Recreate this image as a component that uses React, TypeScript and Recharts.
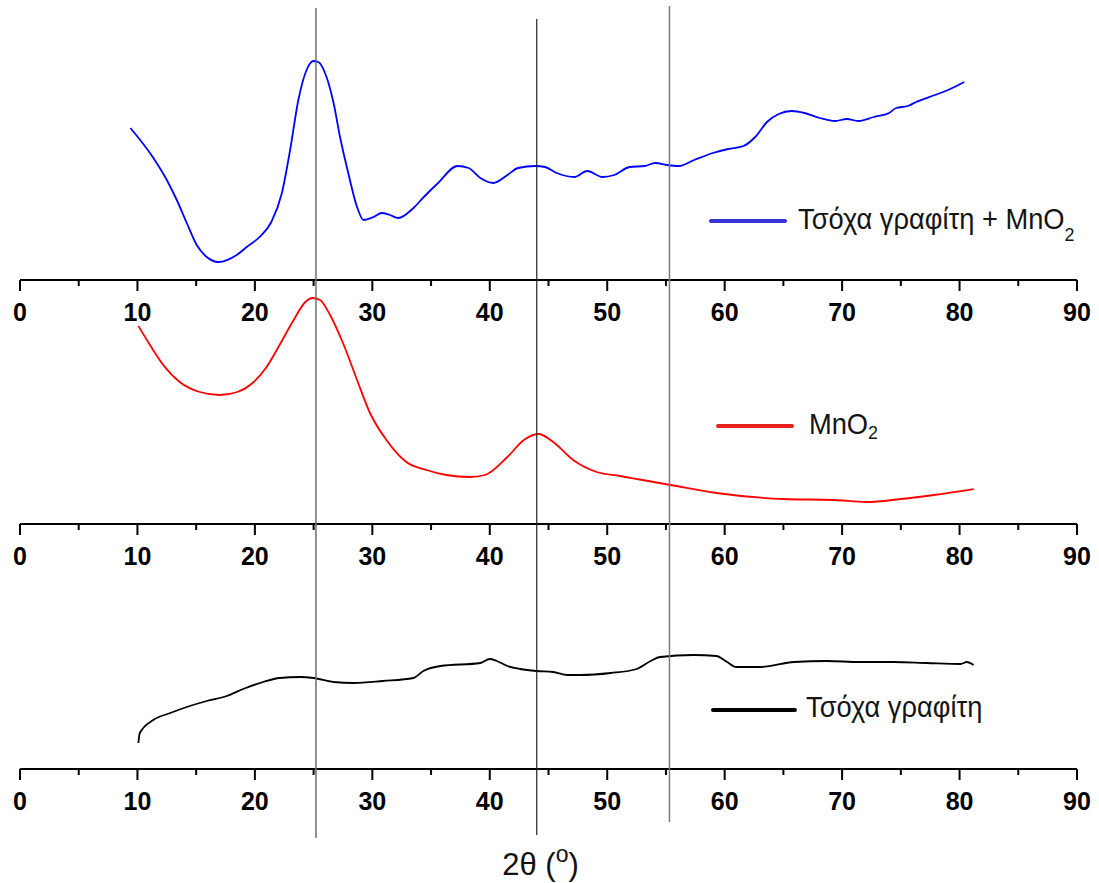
import { LineChart, Line, XAxis, YAxis, Legend } from 'recharts'

// 2θ (deg) and intensity (a.u.) for each sample
const feltMnO2Angle = [
  9.4, 11.3, 12.5, 13.35, 14.2, 15.05, 15.9, 16.9, 18.45, 19.3, 20.4, 21.4, 22.3, 23.0, 23.7, 24.4, 25.0,
  25.4, 26.1, 26.7, 27.25, 27.95, 28.7, 29.25, 30.1, 30.8, 31.5, 32.2, 33.5, 34.3, 35.6, 37.25, 38.2,
  39.2, 40.3, 41.5, 42.4, 43.9, 44.7, 45.7, 47.2, 48.3, 49.6, 50.6, 51.9, 53.2, 54.1, 55.1, 56.1, 57.4,
  59.0, 60.3, 61.6, 62.6, 63.6, 64.6, 65.7, 66.8, 68.1, 69.4, 70.4, 71.4, 72.7, 74.0, 74.6, 75.6, 76.3,
  77.9, 79.2, 80.4,
]
const feltMnO2Intensity = [
  152, 123, 100, 80, 57, 35, 23, 18, 25, 33, 43, 58, 87, 130, 180, 210, 219,
  218, 203, 177, 143, 107, 73, 60, 63, 67, 65, 62, 72, 82, 97, 114, 112,
  102, 97, 105, 112, 114, 113, 107, 103, 109, 103, 105, 113, 114, 117, 115, 114, 120,
  127, 131, 134, 143, 158, 166, 169, 167, 162, 159, 161, 159, 163, 167, 172, 174, 178,
  185, 191, 198,
]

const mno2Angle = [
  10.08, 11.07, 12.2, 13.6, 15.3, 17.0, 18.5, 19.9, 21.0, 22.1, 23.3, 24.3, 24.9, 25.55, 26.4, 27.5,
  28.7, 29.8, 31.2, 32.9, 34.6, 36.3, 38.3, 39.6, 41.5, 42.9, 44.15, 45.4, 47.1, 49.1, 51.1, 53.0,
  55.4, 59.3, 65.0, 69.3, 72.1, 75.0, 77.8, 81.2,
]
const mno2Intensity = [
  198, 179, 159, 142, 132, 129, 132, 142, 157, 179, 204, 222, 226, 224, 209, 181,
  144, 111, 84, 62, 54, 49, 47, 49, 67, 84, 90, 82, 64, 52, 48, 44,
  39, 31, 25, 24, 22, 25, 29, 35,
]

const feltAngle = [
  10.08, 10.2, 11.35, 12.8, 14.2, 15.9, 17.6, 19.0, 20.7, 22.1, 23.85, 25.0, 26.7, 28.4, 30.9, 33.5,
  34.35, 35.8, 39.2, 40.0, 40.6, 41.5, 42.6, 44.0, 45.4, 46.6, 47.7, 50.3, 52.5, 53.7, 54.5, 57.35,
  59.3, 60.2, 61.0, 63.0, 65.9, 68.7, 71.5, 74.4, 77.2, 80.1, 80.6, 81.2,
]
const feltIntensity = [
  26, 36, 49, 56, 62, 68, 73, 80, 87, 91, 92, 91, 87, 86, 88, 91,
  98, 103, 106, 110, 108, 103, 100, 98, 97, 94, 94, 96, 100, 108, 112, 114,
  113, 107, 102, 102, 107, 108, 107, 107, 106, 105, 107, 104,
]

const axisTicks = [0, 5, 10, 15, 20, 25, 30, 35, 40, 45, 50, 55, 60, 65, 70, 75, 80, 85, 90]
const markerAngles = [25.2, 44.0, 55.3]

const zip = (xs: number[], ys: number[]) => xs.map((x, i) => ({ x, y: ys[i] }))

const W = 1099
const H = 883
const MARGIN = { top: 0, right: 22, bottom: 0, left: 20 }
const PLOT_H = 240
const FONT = '"Liberation Sans", Arial, sans-serif'

// vertical extent (page px, top-down) and look of each marker line
const markerLook = [
  { from: 8, to: 838, stroke: '#6e6e6e', width: 1.5 },
  { from: 19, to: 835, stroke: '#222', width: 1.2 },
  { from: 6, to: 822, stroke: '#7a7a7a', width: 1.5 },
]

const AxisTick = (props: any) => {
  const { x, y, payload } = props
  const major = payload.value % 10 === 0
  return (
    <g>
      <line x1={x} x2={x} y1={y} y2={y + (major ? 11 : 6)} stroke="#000" strokeWidth={2} />
      {major && (
        <text x={x} y={y + 41} textAnchor="middle" fontFamily={FONT} fontWeight={700} fontSize={25} fill="#000">
          {payload.value}
        </text>
      )}
    </g>
  )
}

const AxisTitle = (props: any) => {
  const vb = props.viewBox || { x: MARGIN.left, y: PLOT_H, width: W - MARGIN.left - MARGIN.right }
  return (
    <text
      x={vb.x + vb.width / 2 - 8}
      y={vb.y + 106}
      textAnchor="middle"
      fontFamily={FONT}
      fontSize={31}
      fill="#111"
    >
      2θ (<tspan fontSize={23} dy={-13}>o</tspan>
      <tspan dy={13}>)</tspan>
    </text>
  )
}

type Key = {
  color: string
  label: string
  sub?: boolean
  subDrop?: number
  gap: number
  lineW?: number
  shift?: number
}

const KeyItem = ({ color, label, sub, subDrop = 5, gap, lineW = 78, shift = 0 }: Key) => (
  <div style={{ display: 'flex', alignItems: 'center', height: 36 }}>
    <span
      style={{ display: 'block', width: lineW, height: 4, borderRadius: 2, background: color, marginRight: gap }}
    />
    <span
      style={{
        fontFamily: FONT,
        fontSize: 29,
        lineHeight: '36px',
        color: '#141414',
        whiteSpace: 'nowrap',
        display: 'inline-block',
        transform: 'scaleX(0.94)',
        transformOrigin: 'left center',
        position: 'relative',
        top: shift,
      }}
    >
      {label}
      {sub && <span style={{ fontSize: 19, position: 'relative', top: subDrop }}>2</span>}
    </span>
  </div>
)

type PanelProps = {
  top: number
  angle: number[]
  intensity: number[]
  color: string
  width: number
  keyItem: Key
  keyPos: { left: number; top: number }
  withTitle?: boolean
}

function Panel({ top, angle, intensity, color, width, keyItem, keyPos, withTitle }: PanelProps) {
  const axisH = withTitle ? 114 : 45
  return (
    <div style={{ position: 'absolute', left: 0, top }}>
      <LineChart width={W} height={PLOT_H + axisH} data={zip(angle, intensity)} margin={MARGIN}>
        <XAxis
          dataKey="x"
          type="number"
          domain={[0, 90]}
          ticks={axisTicks}
          interval={0}
          height={axisH}
          tickSize={0}
          tickMargin={0}
          tickLine={false}
          tick={<AxisTick />}
          axisLine={{ stroke: '#000', strokeWidth: 2 }}
          label={withTitle ? (p: any) => <AxisTitle {...p} /> : undefined}
        />
        <YAxis hide domain={[0, PLOT_H]} />
        <Legend
          layout="vertical"
          align="center"
          verticalAlign="middle"
          wrapperStyle={{ left: keyPos.left, top: keyPos.top, width: 400 }}
          content={() => <KeyItem {...keyItem} />}
        />
        <Line
          type="monotone"
          dataKey="y"
          stroke={color}
          strokeWidth={width}
          dot={false}
          activeDot={false}
          isAnimationActive={false}
        />
      </LineChart>
    </div>
  )
}

// thin vertical markers at the reflection angles, spanning all three panels
function Markers() {
  return (
    <div style={{ position: 'absolute', left: 0, top: 0, pointerEvents: 'none' }}>
      <LineChart width={W} height={H} margin={MARGIN}>
        <XAxis hide dataKey="x" type="number" domain={[0, 90]} allowDuplicatedCategory={false} />
        <YAxis hide reversed type="number" domain={[0, H]} />
        {markerAngles.map((a, i) => (
          <Line
            key={a}
            data={[
              { x: a, y: markerLook[i].from },
              { x: a, y: markerLook[i].to },
            ]}
            dataKey="y"
            type="linear"
            stroke={markerLook[i].stroke}
            strokeWidth={markerLook[i].width}
            dot={false}
            activeDot={false}
            isAnimationActive={false}
          />
        ))}
      </LineChart>
    </div>
  )
}

export default function App() {
  return (
    <div style={{ position: 'absolute', left: 0, top: 0, width: W, height: H, background: '#fff', overflow: 'hidden' }}>
      <Panel
        top={40}
        angle={feltMnO2Angle}
        intensity={feltMnO2Intensity}
        color="#0000ff"
        width={1.8}
        keyItem={{ color: '#3434d4', label: 'Τσόχα γραφίτη + MnO', sub: true, subDrop: 12, gap: 11 }}
        keyPos={{ left: 709, top: 163 }}
      />
      <Panel
        top={284}
        angle={mno2Angle}
        intensity={mno2Intensity}
        color="#ff0000"
        width={1.8}
        keyItem={{ color: '#e82020', label: 'MnO', sub: true, subDrop: 5, gap: 15 }}
        keyPos={{ left: 716, top: 124 }}
      />
      <Panel
        top={529}
        angle={feltAngle}
        intensity={feltIntensity}
        color="#000"
        width={1.8}
        keyItem={{ color: '#000', label: 'Τσόχα γραφίτη', gap: 9, lineW: 86, shift: -3 }}
        keyPos={{ left: 711, top: 163 }}
        withTitle
      />
      <Markers />
    </div>
  )
}
